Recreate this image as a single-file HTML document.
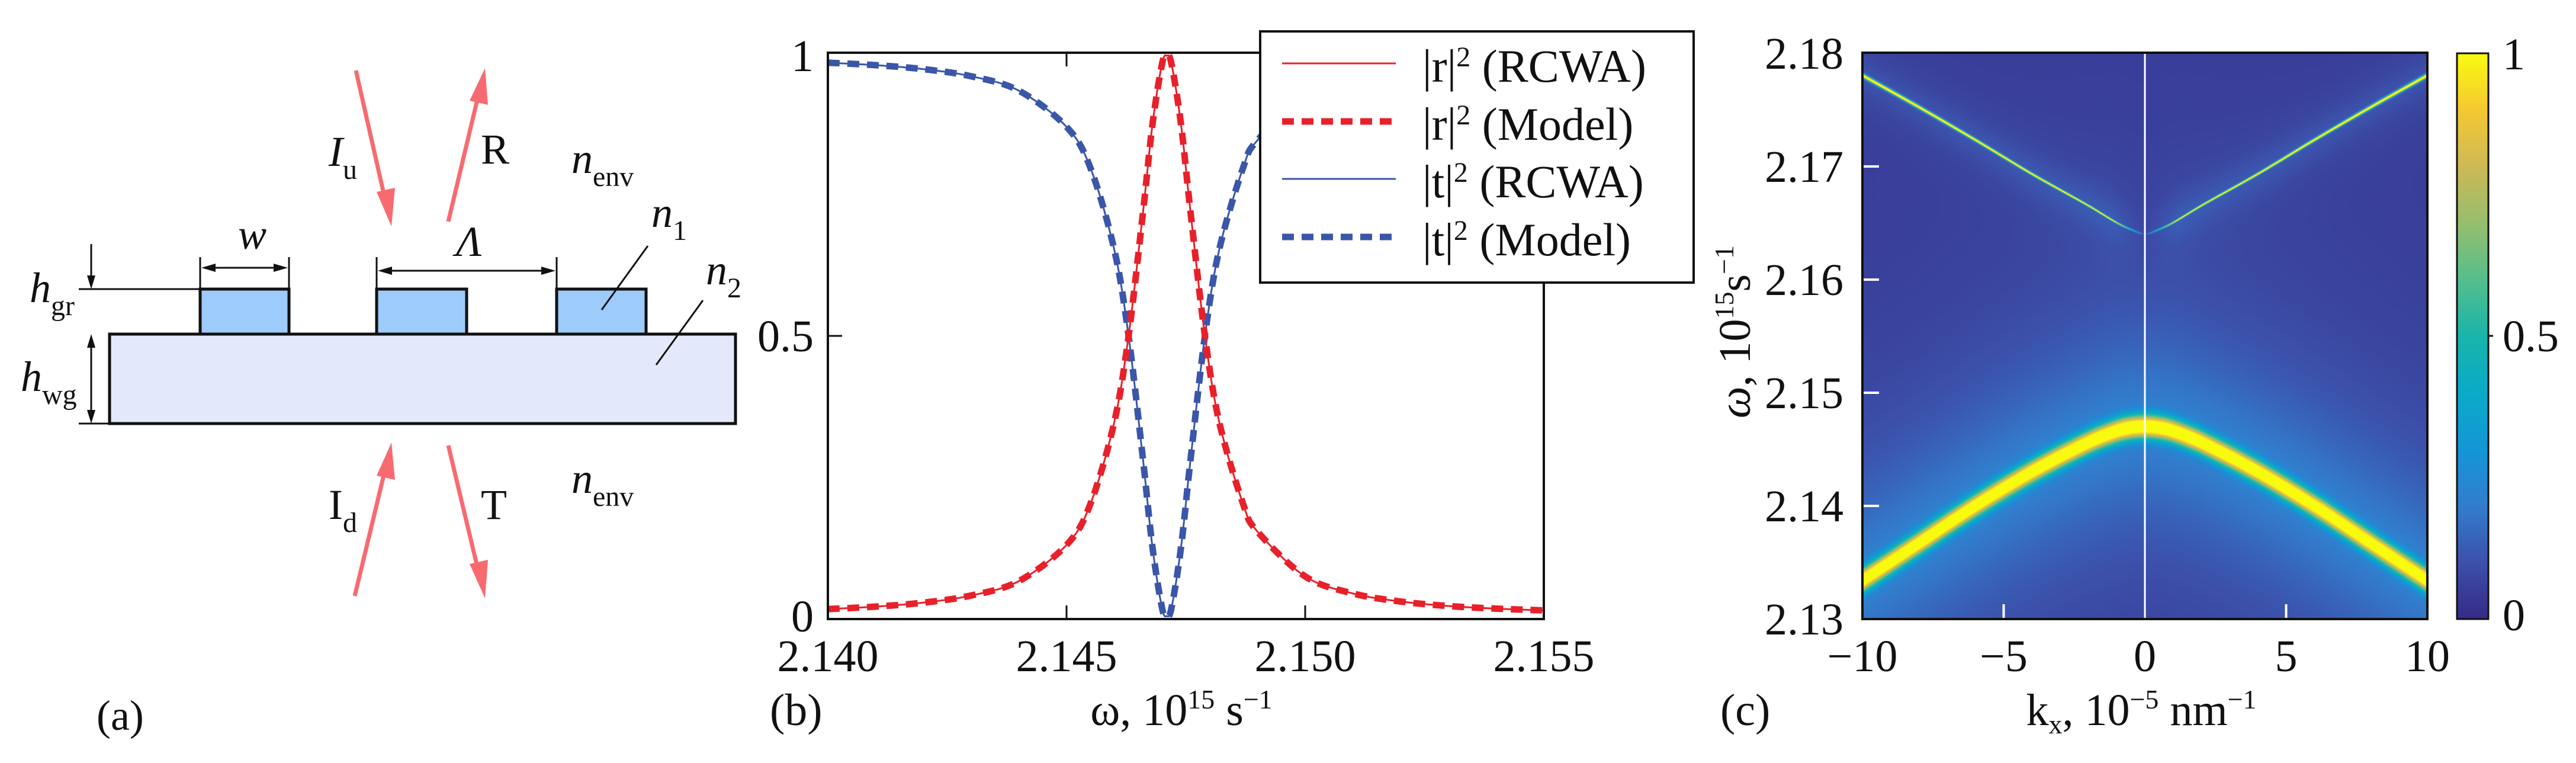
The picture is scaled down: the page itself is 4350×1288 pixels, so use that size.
<!DOCTYPE html>
<html><head><meta charset="utf-8"><style>
html,body{margin:0;padding:0;background:#fff;}
#wrap{position:relative;width:4350px;height:1288px;overflow:hidden;background:#fff;}
#heat{position:absolute;left:3145px;top:89px;width:954px;height:956px;}
#svg{position:absolute;left:0;top:0;}
text{font-family:"Liberation Serif",serif;fill:#111;}
</style></head><body>
<div id="wrap">
<canvas id="heat" width="954" height="956"></canvas>
<svg id="svg" width="4350" height="1288" viewBox="0 0 4350 1288" xmlns="http://www.w3.org/2000/svg">
<defs>
<linearGradient id="parula" x1="0" y1="1" x2="0" y2="0">
<stop offset="0" stop-color="rgb(53,42,135)"/><stop offset="0.1" stop-color="rgb(60,80,170)"/><stop offset="0.2" stop-color="rgb(50,125,205)"/><stop offset="0.3" stop-color="rgb(20,150,215)"/><stop offset="0.4" stop-color="rgb(10,170,200)"/><stop offset="0.5" stop-color="rgb(25,180,170)"/><stop offset="0.6" stop-color="rgb(85,190,140)"/><stop offset="0.7" stop-color="rgb(150,190,110)"/><stop offset="0.8" stop-color="rgb(205,185,85)"/><stop offset="0.9" stop-color="rgb(245,200,50)"/><stop offset="1" stop-color="rgb(249,251,14)"/>
</linearGradient>
</defs>
<!-- Panel (a) -->
<g>
<rect x="185" y="564" width="1057" height="151" fill="#e3e9fb" stroke="#111" stroke-width="5"/>
<rect x="338" y="488" width="150" height="76" fill="#9dcbfb" stroke="#111" stroke-width="5"/>
<rect x="636" y="488" width="152" height="76" fill="#9dcbfb" stroke="#111" stroke-width="5"/>
<rect x="940" y="488" width="151" height="76" fill="#9dcbfb" stroke="#111" stroke-width="5"/>
<g stroke="#111" stroke-width="3" fill="none">
<line x1="133" y1="488" x2="338" y2="488"/><line x1="133" y1="715" x2="185" y2="715"/>
<line x1="154" y1="412" x2="154" y2="480"/><line x1="154" y1="572" x2="154" y2="707"/>
<line x1="338" y1="434" x2="338" y2="488"/><line x1="488" y1="434" x2="488" y2="488"/>
<line x1="636" y1="434" x2="636" y2="488"/><line x1="940" y1="434" x2="940" y2="488"/>
<line x1="350" y1="452" x2="476" y2="452"/><line x1="648" y1="457" x2="928" y2="457"/>
<line x1="1094" y1="415" x2="1016" y2="523"/><line x1="1187" y1="507" x2="1108" y2="616"/>
</g>
<g fill="#111">
<polygon points="154,488 147,465 161,465"/><polygon points="154,564 147,587 161,587"/><polygon points="154,715 147,692 161,692"/>
<polygon points="340,452 364,445 364,459"/><polygon points="486,452 462,445 462,459"/>
<polygon points="638,457 662,450 662,464"/><polygon points="938,457 914,450 914,464"/>
</g>
<g stroke="#f76b70" stroke-width="7">
<line x1="601" y1="119" x2="651" y2="340"/><line x1="757" y1="374" x2="808" y2="160"/>
<line x1="599" y1="1006" x2="651" y2="790"/><line x1="757" y1="752" x2="808" y2="965"/>
</g>
<g fill="#f76b70">
<polygon points="661,382 636,324 667,317"/>
<polygon points="819,115 824,177 793,170"/>
<polygon points="661,747 667,810 636,803"/>
<polygon points="819,1010 793,952 824,945"/>
</g>
<g font-size="72">
<text x="555" y="280" font-style="italic">I<tspan font-size="48" font-style="normal" dy="22">u</tspan></text>
<text x="812" y="276">R</text>
<text x="555" y="876">I<tspan font-size="48" dy="22">d</tspan></text>
<text x="812" y="876">T</text>
<text x="965" y="292" font-style="italic">n<tspan font-size="48" font-style="normal" dy="22">env</tspan></text>
<text x="965" y="832" font-style="italic">n<tspan font-size="48" font-style="normal" dy="22">env</tspan></text>
<text x="1100" y="383" font-style="italic">n<tspan font-size="48" font-style="normal" dy="22">1</tspan></text>
<text x="1192" y="480" font-style="italic">n<tspan font-size="48" font-style="normal" dy="22">2</tspan></text>
<text x="402" y="420" font-style="italic">w</text>
<text x="770" y="432" font-style="italic">Λ</text>
<text x="50" y="510" font-style="italic">h<tspan font-size="48" font-style="normal" dy="22">gr</tspan></text>
<text x="35" y="660" font-style="italic">h<tspan font-size="48" font-style="normal" dy="22">wg</tspan></text>
<text x="163" y="1232">(a)</text>
</g>
</g>
<!-- Panel (b) -->
<g id="pb">
<g id="pbticks"></g>
<g id="pbcurves"></g>
<rect x="1398" y="89" width="1209" height="956" fill="none" stroke="#111" stroke-width="4"/>
<g>
<rect x="2128" y="53" width="732" height="424" fill="#fff" stroke="#111" stroke-width="4"/>
<line x1="2165" y1="107" x2="2357" y2="107" stroke="#e8202a" stroke-width="3"/>
<line x1="2165" y1="205" x2="2357" y2="205" stroke="#e8202a" stroke-width="11" stroke-dasharray="20,13"/>
<line x1="2165" y1="302" x2="2357" y2="302" stroke="#3a56a8" stroke-width="3"/>
<line x1="2165" y1="400" x2="2357" y2="400" stroke="#3a56a8" stroke-width="11" stroke-dasharray="20,13"/>
<g font-size="78">
<text x="2402" y="138">|r|<tspan font-size="48" dy="-26">2</tspan><tspan dy="26"> (RCWA)</tspan></text>
<text x="2402" y="236">|r|<tspan font-size="48" dy="-26">2</tspan><tspan dy="26"> (Model)</tspan></text>
<text x="2402" y="333">|t|<tspan font-size="48" dy="-26">2</tspan><tspan dy="26"> (RCWA)</tspan></text>
<text x="2402" y="431">|t|<tspan font-size="48" dy="-26">2</tspan><tspan dy="26"> (Model)</tspan></text>
</g>
</g>
<text x="1995" y="1224" font-size="76" text-anchor="middle">ω, 10<tspan font-size="46" dy="-28">15</tspan><tspan dy="28"> s</tspan><tspan font-size="46" dy="-28">−1</tspan></text>
<text x="1300" y="1224" font-size="76">(b)</text>
</g>
<!-- Panel (c) -->
<g id="pc">
<line x1="3622" y1="89" x2="3622" y2="1045" stroke="#fff" stroke-width="3"/>
<g id="pcticks"></g>
<rect x="3145" y="89" width="954" height="956" fill="none" stroke="#111" stroke-width="4"/>
<rect x="4149" y="90" width="53" height="955" fill="url(#parula)" stroke="#111" stroke-width="3"/>
<line x1="4202" y1="567" x2="4210" y2="567" stroke="#111" stroke-width="3"/>
<g font-size="76">
<text x="4226" y="117">1</text>
<text x="4226" y="593">0.5</text>
<text x="4226" y="1064">0</text>
</g>
<text transform="translate(2955,560) rotate(-90)" font-size="76" text-anchor="middle"><tspan font-style="italic">ω</tspan>, 10<tspan font-size="46" dy="-28">15</tspan><tspan dy="28">s</tspan><tspan font-size="46" dy="-28">−1</tspan></text>
<text x="3616" y="1224" font-size="76" text-anchor="middle">k<tspan font-size="46" dy="14">x</tspan><tspan dy="-14">, 10</tspan><tspan font-size="46" dy="-28">−5</tspan><tspan dy="28"> nm</tspan><tspan font-size="46" dy="-28">−1</tspan></text>
<text x="2905" y="1224" font-size="76">(c)</text>
</g>
</svg>
</div>
<script>
// ---- Panel (b) data ----
const omegaB = [2.140,2.141,2.142,2.143,2.144,2.145,2.1455,2.146,2.1463,2.1466,2.1468,2.1470,2.1471,2.1472,2.1474,2.1476,2.1479,2.1482,2.1487,2.149,2.150,2.151,2.152,2.153,2.154,2.155];
const rVals = [0.0125,0.0169,0.024,0.0367,0.0624,0.127,0.20,0.346,0.50,0.719,0.877,0.985,1.0,0.985,0.877,0.719,0.50,0.346,0.20,0.151,0.0708,0.0404,0.026,0.018,0.0133,0.0102];
const tVals = [0.9875,0.9831,0.976,0.9633,0.9376,0.873,0.80,0.654,0.50,0.281,0.123,0.015,0.0,0.015,0.123,0.281,0.50,0.654,0.80,0.849,0.9292,0.9596,0.974,0.982,0.9867,0.9898];
const xTicksB = [2.140,2.145,2.150,2.155];
const xTickLabelsB = ["2.140","2.145","2.150","2.155"];
const yTicksB = [0,0.5,1];
const yTickLabelsB = ["0","0.5","1"];
// ---- Panel (c) data ----
const kxC = [-10,-8,-6,-4,-2,-1,-0.5,0,0.5,1,2,4,6,8,10];
const upperBand = [2.178,2.1752,2.1723,2.1693,2.1665,2.1650,2.1644,2.164,2.1644,2.1650,2.1665,2.1693,2.1723,2.1752,2.178];
const lowerBand = [2.1334,2.1367,2.1400,2.1430,2.1456,2.1466,2.1469,2.1470,2.1469,2.1466,2.1456,2.1430,2.1400,2.1367,2.1334];
const xTicksC = [-10,-5,0,5,10];
const xTickLabelsC = ["−10","−5","0","5","10"];
const yTicksC = [2.13,2.14,2.15,2.16,2.17,2.18];
const yTickLabelsC = ["2.13","2.14","2.15","2.16","2.17","2.18"];

const NS="http://www.w3.org/2000/svg";
function mk(tag,attrs,parent){const e=document.createElementNS(NS,tag);for(const k in attrs)e.setAttribute(k,attrs[k]);parent.appendChild(e);return e;}
const bx0=1398,bx1=2607,by0=1040,by1=94;
function xB(v){return bx0+(v-2.140)/(0.015)*(bx1-bx0);}
function yB(v){return by0+(v)*(by1-by0);}
const tb=document.getElementById('pbticks');
xTicksB.forEach((v,i)=>{
  const x=xB(v);
  if(i>0&&i<xTicksB.length-1){
    const a=mk('line',{x1:x,y1:1045,x2:x,y2:1022,stroke:'#111','stroke-width':3},tb);
    
    
    const b=mk('line',{x1:x,y1:89,x2:x,y2:112,stroke:'#111','stroke-width':3},tb);
    
    
  }
  const t=mk('text',{x:x,y:1133,'font-size':76,'text-anchor':'middle'},tb);
  t.textContent=xTickLabelsB[i];
  
  
});
yTicksB.forEach((v,i)=>{
  const y=yB(v);
  if(v===0.5){
    const a=mk('line',{x1:1398,y1:y,x2:1422,y2:y,stroke:'#111','stroke-width':3},tb);
    
    
  }
  const t=mk('text',{x:1374,y:y+26,'font-size':76,'text-anchor':'end'},tb);
  t.textContent=yTickLabelsB[i];
  
  
});
function smoothPath(vals){
  const pts=omegaB.map((w,i)=>[xB(w),yB(vals[i])]);
  let d='M'+pts[0][0]+','+pts[0][1];
  for(let i=0;i<pts.length-1;i++){
    const p0=pts[Math.max(0,i-1)],p1=pts[i],p2=pts[i+1],p3=pts[Math.min(pts.length-1,i+2)];
    const c1=[p1[0]+(p2[0]-p0[0])/6,p1[1]+(p2[1]-p0[1])/6];
    const c2=[p2[0]-(p3[0]-p1[0])/6,p2[1]-(p3[1]-p1[1])/6];
    d+=' C'+c1[0].toFixed(1)+','+c1[1].toFixed(1)+' '+c2[0].toFixed(1)+','+c2[1].toFixed(1)+' '+p2[0].toFixed(1)+','+p2[1].toFixed(1);
  }
  return d;
}
const pc=document.getElementById('pbcurves');
const l1=mk('path',{d:smoothPath(tVals),fill:'none',stroke:'#3a56a8','stroke-width':3},pc);


const l2=mk('path',{d:smoothPath(tVals),fill:'none',stroke:'#3a56a8','stroke-width':11,'stroke-dasharray':'20,13'},pc);


const l3=mk('path',{d:smoothPath(rVals),fill:'none',stroke:'#e8202a','stroke-width':3},pc);


const l4=mk('path',{d:smoothPath(rVals),fill:'none',stroke:'#e8202a','stroke-width':11,'stroke-dasharray':'20,13'},pc);



const cx0=3145,cx1=4099,cy0=1045,cy1=90;
function xC(v){return cx0+(v+10)/20*(cx1-cx0);}
function yC(v){return cy0+(v-2.13)/0.05*(cy1-cy0);}
const tc=document.getElementById('pcticks');
xTicksC.forEach((v,i)=>{
  const x=xC(v);
  if(v===-5||v===5){
    const a=mk('line',{x1:x,y1:1045,x2:x,y2:1020,stroke:'#fff','stroke-width':4},tc);
    
    
  }
  const t=mk('text',{x:x,y:1133,'font-size':76,'text-anchor':'middle'},tc);
  t.textContent=xTickLabelsC[i];
  
  
});
yTicksC.forEach((v,i)=>{
  const y=yC(v);
  if(i>0&&i<yTicksC.length-1){
    const a=mk('line',{x1:3147,y1:y,x2:3173,y2:y,stroke:'#fff','stroke-width':4},tc);
    
    
  }
  const t=mk('text',{x:3113,y:y+26,'font-size':76,'text-anchor':'end'},tc);
  t.textContent=yTickLabelsC[i];
  
  
});

// heatmap
const stops=[[53,42,135],[60,80,170],[50,125,205],[20,150,215],[10,170,200],[25,180,170],[85,190,140],[150,190,110],[205,185,85],[245,200,50],[249,251,14]];
function parula(v){v=Math.max(0,Math.min(1,v));const s=v*10,i=Math.min(9,Math.floor(s)),f=s-i;const a=stops[i],b=stops[i+1];return [a[0]+(b[0]-a[0])*f,a[1]+(b[1]-a[1])*f,a[2]+(b[2]-a[2])*f];}
function interp(arr,k){
  const n=kxC.length;
  for(let i=0;i<n-1;i++){if(k>=kxC[i]&&k<=kxC[i+1]){
    const h=kxC[i+1]-kxC[i],t=(k-kxC[i])/h;
    const m0=i>0?(arr[i+1]-arr[i-1])/(kxC[i+1]-kxC[i-1])*h:(arr[i+1]-arr[i]);
    const m1=i<n-2?(arr[i+2]-arr[i])/(kxC[i+2]-kxC[i])*h:(arr[i+1]-arr[i]);
    const t2=t*t,t3=t2*t;
    return (2*t3-3*t2+1)*arr[i]+(t3-2*t2+t)*m0+(-2*t3+3*t2)*arr[i+1]+(t3-t2)*m1;}}
  return arr[n-1];
}
const cv=document.getElementById('heat'),ctx=cv.getContext('2d');
const W=cv.width,H=cv.height,img=ctx.createImageData(W,H);
for(let px=0;px<W;px++){
  const k=-10+20*(px+0.5)/W;
  const wl=interp(lowerBand,k),wu=interp(upperBand,k);
  const ak=Math.abs(k);
  const sl=0.0007, su=0.00005+0.00008*ak/10;
  const uAmp=Math.min(1,ak/1.2);
  for(let py=0;py<H;py++){
    const w=2.18-0.05*(py+0.5)/H;
    const dl=(w-wl)/sl, du=(w-wu)/su;
    let v=0.04+Math.exp(-0.5*dl*dl);
    v+=0.17/(1+Math.pow((w-wl)/0.009,2));
    v+=uAmp*Math.exp(-0.5*du*du);
    v+=0.06*uAmp/(1+Math.pow((w-wu)/0.002,2));
    const c=parula(Math.min(1,v));
    const o=(py*W+px)*4;img.data[o]=c[0];img.data[o+1]=c[1];img.data[o+2]=c[2];img.data[o+3]=255;
  }
}
ctx.putImageData(img,0,0);
</script>
</body></html>
